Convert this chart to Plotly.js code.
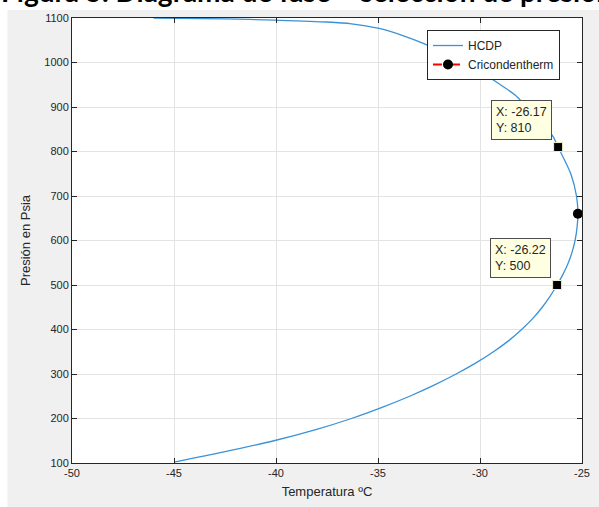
<!DOCTYPE html>
<html>
<head>
<meta charset="utf-8">
<script src="https://cdn.plot.ly/plotly-3.0.1.min.js"></script>
<style>html,body{margin:0;padding:0;background:#fff;}#chart{width:599px;height:507px;}</style>
</head>
<body>
<div id="chart"></div>
<script>
// HCDP phase envelope (temperature °C, pressure psia)
var hcdpT = [-46.0, -42.5, -40.0, -37.5, -36.3, -35.0, -33.75, -32.78, -31.2, -30.08, -29.0, -28.28, -27.7, -27.25, -26.68, -26.41, -26.17, -25.55, -25.27, -25.2, -25.24, -25.34, -25.48, -25.67, -25.92, -26.22, -26.56, -26.95, -27.41, -27.96, -28.59, -29.34, -30.2, -31.17, -32.25, -33.45, -34.8, -36.3, -38.05, -40.1, -42.55, -45.0];
var hcdpP = [1100, 1098, 1095, 1091, 1087, 1077, 1060, 1043, 1010, 983, 950, 927, 900, 880, 850, 833, 810, 750, 700, 660, 630, 600, 575, 550, 525, 500, 475, 450, 425, 400, 375, 350, 325, 300, 275, 250, 225, 200, 175, 150, 125, 102];
// Cricondentherm
var cricT = [-25.2];
var cricP = [660];
// Data tips
var tipT = [-26.17, -26.22];
var tipP = [810, 500];
var tipLabelX = ['-26.17', '-26.22'];
var tipLabelY = ['810', '500'];
// Ticks
var xTickVals = [-50, -45, -40, -35, -30, -25];
var xTickText = ['-50', '-45', '-40', '-35', '-30', '-25'];
var yTickVals = [100, 200, 300, 400, 500, 600, 700, 800, 900, 1000, 1100];
var yTickText = ['100', '200', '300', '400', '500', '600', '700', '800', '900', '1000', '1100'];
var titleText = 'Figura 5. Diagrama de fase \u2013 selecci\u00f3n de presi\u00f3n';

var traces = [
  {x: hcdpT, y: hcdpP, type: 'scatter', mode: 'lines', name: 'HCDP',
   line: {color: '#3a92d8', width: 1.3, shape: 'spline', smoothing: 0.8}, cliponaxis: true},
  {x: cricT, y: cricP, type: 'scatter', mode: 'lines+markers', name: 'Cricondentherm',
   line: {color: '#ff0000', width: 2, dash: 'dash'},
   marker: {symbol: 'circle', color: '#000000', size: 10}, cliponaxis: false},
  {x: tipT, y: tipP, type: 'scatter', mode: 'markers', showlegend: false,
   marker: {symbol: 'square', color: '#000000', size: 9, line: {color: '#f4f0c8', width: 1}}, cliponaxis: false}
];

var annotations = [];
for (var i = 0; i < tipT.length; i++) {
  annotations.push({
    x: tipT[i], y: tipP[i], xref: 'x', yref: 'y', showarrow: false,
    xanchor: 'right', yanchor: 'bottom', xshift: -6, yshift: 7, align: 'left',
    text: 'X: ' + tipLabelX[i] + '<br>Y: ' + tipLabelY[i],
    font: {family: 'Liberation Sans, Arial, sans-serif', size: 12.5, color: '#262626'},
    bgcolor: '#ffffe1', bordercolor: '#4d4d4d', borderwidth: 1, borderpad: 4
  });
}
annotations.push({
  xref: 'paper', yref: 'paper', x: -0.143, y: 1.012, yshift: 3, xanchor: 'left', yanchor: 'bottom',
  showarrow: false, text: '<b>' + titleText + '</b>',
  font: {family: 'Lato, Carlito, sans-serif', size: 28, color: '#000000'}
});

var layout = {
  width: 599, height: 507,
  margin: {l: 72, r: 17, t: 18, b: 44, pad: 0},
  paper_bgcolor: '#f0f0f0', plot_bgcolor: '#ffffff',
  font: {family: 'Liberation Sans, Arial, sans-serif', size: 11, color: '#262626'},
  showlegend: true,
  legend: {x: 0.696, y: 0.973, xanchor: 'left', yanchor: 'top', bgcolor: '#ffffff',
           bordercolor: '#262626', borderwidth: 1, font: {size: 12, color: '#262626'},
           tracegroupgap: 0, itemwidth: 30},
  xaxis: {range: [-50, -25], tickvals: xTickVals, ticktext: xTickText, ticks: 'inside', ticklen: 5,
          tickcolor: '#262626', showline: true, linecolor: '#262626', linewidth: 1, mirror: 'ticks',
          showgrid: true, gridcolor: '#e3e3e3', zeroline: false,
          tickfont: {size: 11, color: '#262626'},
          title: {text: 'Temperatura \u00baC', font: {size: 13, color: '#262626'}, standoff: 8}},
  yaxis: {range: [100, 1100], tickvals: yTickVals, ticktext: yTickText, ticks: 'inside', ticklen: 5,
          tickcolor: '#262626', showline: true, linecolor: '#262626', linewidth: 1, mirror: 'ticks',
          showgrid: true, gridcolor: '#e3e3e3', zeroline: false,
          tickfont: {size: 11, color: '#262626'},
          title: {text: 'Presi\u00f3n en Psia', font: {size: 13, color: '#262626'}, standoff: 10}},
  shapes: [
    {type: 'rect', xref: 'paper', yref: 'paper', x0: -0.3, x1: 1.2, y0: 1.018, y1: 1.1,
     fillcolor: '#ffffff', line: {width: 0}, layer: 'below'},
    {type: 'rect', xref: 'paper', yref: 'paper', x0: -0.3, x1: -0.1265, y0: -0.2, y1: 1.1,
     fillcolor: '#ffffff', line: {width: 0}, layer: 'below'}
  ],
  annotations: annotations
};

Plotly.newPlot('chart', traces, layout, {displayModeBar: false, staticPlot: true});
</script>
</body>
</html>
